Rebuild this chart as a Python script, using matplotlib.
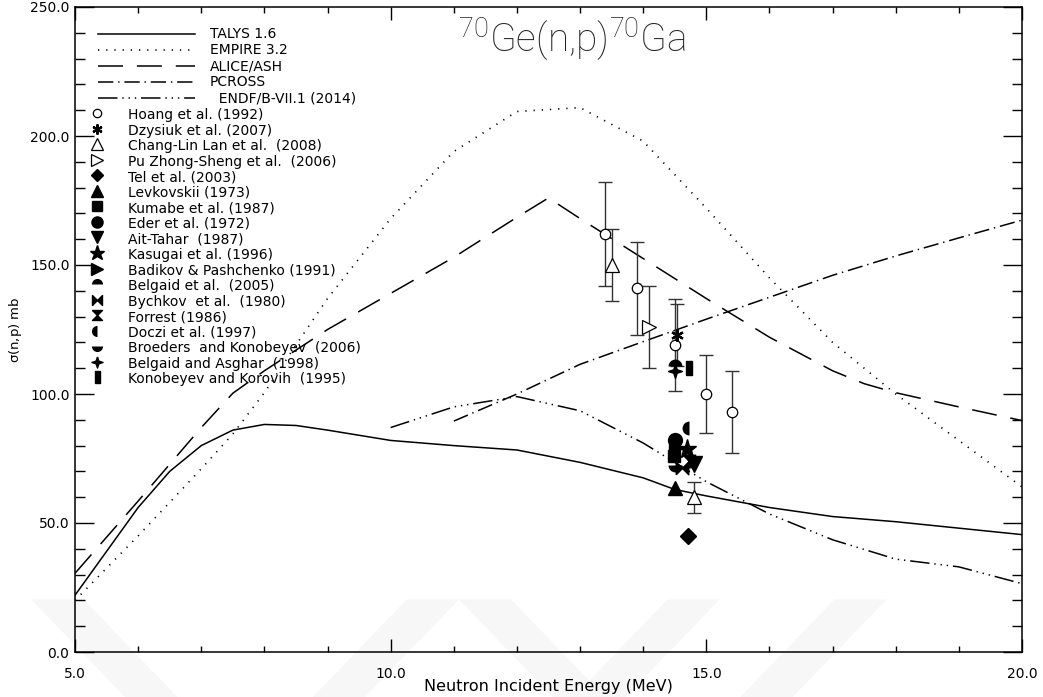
import matplotlib
matplotlib.use("Agg")
import matplotlib.pyplot as plt
from matplotlib.lines import Line2D
from matplotlib.patches import Polygon
import numpy as np

plt.rcParams['font.family'] = ['DejaVu Sans']
plt.rcParams['mathtext.default'] = 'regular'
plt.rcParams['lines.scale_dashes'] = False

# ---- model calculations -------------------------------------------------
talys_e = [5, 6, 6.5, 7, 7.5, 8, 8.5, 9, 9.5, 10, 11, 12, 13, 14, 14.5, 15, 16, 17, 18, 19, 20]
talys_xs = [22, 56, 70, 80, 86, 88.2, 87.8, 86, 84, 82, 80, 78.3, 73.5, 67.5, 63, 60.5, 56, 52.5, 50.5, 48, 45.5]

empire_e = [5, 6, 7, 7.5, 8, 8.5, 9, 10, 11, 12, 13, 14, 15, 16, 17, 18, 19, 20]
empire_xs = [20, 45, 71, 84.5, 100.5, 119, 137, 168, 194, 209.5, 211, 198, 172, 145, 120, 100, 82, 64]

alice_e = [5, 6, 7, 7.5, 8, 9, 10, 11, 12, 12.5, 13, 14, 15, 16, 17, 17.5, 18, 19, 20]
alice_xs = [30.5, 58.5, 87, 100.3, 109, 125, 139, 153, 168.5, 176, 168, 152.5, 137, 122, 109, 104, 100.5, 95, 89.7]

pcross_e = [11, 12, 13, 14, 15, 16, 17, 18, 19, 20]
pcross_xs = [89.5, 100, 111.5, 120.3, 129, 137.5, 146, 153.5, 160.5, 167.4]

endf_e = [10, 11, 12, 13, 14, 15, 16, 17, 18, 19, 20]
endf_xs = [87, 95, 99, 93.5, 81, 66, 53.5, 43.5, 36, 33, 26.5]

# ---- measurements -------------------------------------------------------
hoang_e = [13.40, 13.90, 14.51, 15.00, 15.41]
hoang_xs = [162, 141, 119, 100, 93]
hoang_err = [20, 18, 18, 15, 16]

dzysiuk_e = [14.53]
dzysiuk_xs = [123]
dzysiuk_err = [12]

lan_e = [13.50, 14.80]
lan_xs = [150, 60]
lan_err = [14, 6]

pu_e = [14.09]
pu_xs = [126]
pu_err = [16]

tel_e, tel_xs = [14.71], [45]
levk_e, levk_xs = [14.50], [63.5]
kumabe_e, kumabe_xs = [14.48], [76]
eder_e, eder_xs = [14.50], [82]
ait_e, ait_xs = [14.80], [73]
kasugai_e, kasugai_xs = [14.70], [78.5]
badikov_e, badikov_xs = [14.52], [79]
belgaid_e, belgaid_xs = [14.50], [111]
bychkov_e, bychkov_xs = [14.62], [71.5]
forrest_e, forrest_xs = [14.72], [74]
doczi_e, doczi_xs = [14.72], [87]
broeders_e, broeders_xs = [14.50], [72.5]
asghar_e, asghar_xs = [14.50], [109]
konob_e, konob_xs = [14.72], [110]

xticks = [5.0, 10.0, 15.0, 20.0]
yticks = [0.0, 50.0, 100.0, 150.0, 200.0, 250.0]

# ---- custom marker shapes ----------------------------------------------
bowtie = [(-1, -1), (-1, 1), (0, 0), (1, 1), (1, -1), (0, 0), (-1, -1)]
hourglass = [(-1, 1), (1, 1), (0, 0), (1, -1), (-1, -1), (0, 0), (-1, 1)]
sparkle = [(0, 1), (0.25, 0.25), (1, 0), (0.25, -0.25), (0, -1), (-0.25, -0.25), (-1, 0), (-0.25, 0.25), (0, 1)]
slab = [(-0.45, -1), (0.45, -1), (0.45, 1), (-0.45, 1), (-0.45, -1)]

K = 'black'

fig = plt.figure(figsize=(10.43, 6.97), dpi=100)

# faint diagonal watermark bands near the bottom of the sheet
bands = [
    [(0.030, 0.140), (0.080, 0.140), (0.170, 0.0), (0.120, 0.0)],
    [(0.390, 0.140), (0.440, 0.140), (0.350, 0.0), (0.300, 0.0)],
    [(0.440, 0.140), (0.490, 0.140), (0.580, 0.0), (0.530, 0.0)],
    [(0.640, 0.140), (0.690, 0.140), (0.600, 0.0), (0.550, 0.0)],
    [(0.800, 0.140), (0.850, 0.140), (0.760, 0.0), (0.710, 0.0)],
]
for b in bands:
    fig.patches.append(Polygon(b, closed=True, transform=fig.transFigure,
                               facecolor='#f7f7f7', edgecolor='none', zorder=0))

ax = fig.add_axes([75 / 1043, 45 / 697, 947 / 1043, 645 / 697])
ax.set_zorder(2)
ax.patch.set_alpha(0)

lw = 1.1
ax.plot(talys_e, talys_xs, color=K, lw=lw, ls='-')
ax.plot(empire_e, empire_xs, color=K, lw=1.2, ls=(0, (0.9, 5.0)))
ax.plot(alice_e, alice_xs, color=K, lw=lw, ls=(0, (18, 10)))
ax.plot(pcross_e, pcross_xs, color=K, lw=lw, ls=(0, (11, 3.5, 1, 3.5)))
ax.plot(endf_e, endf_xs, color=K, lw=lw, ls=(0, (14, 3.5, 1, 3.5, 1, 3.5, 1, 3.5)))

eb = dict(fmt='none', ecolor='#333333', elinewidth=1.0, capsize=5, capthick=1.0, zorder=3)
ax.errorbar(hoang_e, hoang_xs, yerr=hoang_err, **eb)
ax.errorbar(dzysiuk_e, dzysiuk_xs, yerr=dzysiuk_err, **eb)
ax.errorbar(lan_e, lan_xs, yerr=lan_err, **eb)
ax.errorbar(pu_e, pu_xs, yerr=pu_err, **eb)

# marker styles for the experimental sets: (label, x, y, style)
exp_sets = [
    ("Hoang et al. (1992)", hoang_e, hoang_xs, dict(marker='o', ms=7.5, mfc='white', mec=K, mew=0.9)),
    ("Dzysiuk et al. (2007)", dzysiuk_e, dzysiuk_xs, dict(marker=(6, 2, 0), ms=9, mec=K, mew=1.6)),
    ("Chang-Lin Lan et al.  (2008)", lan_e, lan_xs, dict(marker='^', ms=10, mfc='white', mec=K, mew=0.9)),
    ("Pu Zhong-Sheng et al.  (2006)", pu_e, pu_xs, dict(marker='>', ms=10, mfc='white', mec=K, mew=0.9)),
    ("Tel et al. (2003)", tel_e, tel_xs, dict(marker='D', ms=8, mfc=K, mec=K)),
    ("Levkovskii (1973)", levk_e, levk_xs, dict(marker='^', ms=10, mfc=K, mec=K)),
    ("Kumabe et al. (1987)", kumabe_e, kumabe_xs, dict(marker='s', ms=9, mfc=K, mec=K)),
    ("Eder et al. (1972)", eder_e, eder_xs, dict(marker='o', ms=10, mfc=K, mec=K)),
    ("Ait-Tahar  (1987)", ait_e, ait_xs, dict(marker='v', ms=11, mfc=K, mec=K)),
    ("Kasugai et al. (1996)", kasugai_e, kasugai_xs, dict(marker='*', ms=14, mfc=K, mec=K)),
    ("Badikov & Pashchenko (1991)", badikov_e, badikov_xs, dict(marker='>', ms=10, mfc=K, mec=K)),
    ("Belgaid et al.  (2005)", belgaid_e, belgaid_xs, dict(marker='o', ms=10, fillstyle='top', mfc=K, mfcalt='none', mec='none')),
    ("Bychkov  et al.  (1980)", bychkov_e, bychkov_xs, dict(marker=bowtie, ms=9, mfc=K, mec=K)),
    ("Forrest (1986)", forrest_e, forrest_xs, dict(marker=hourglass, ms=9, mfc=K, mec=K)),
    ("Doczi et al. (1997)", doczi_e, doczi_xs, dict(marker='o', ms=10, fillstyle='left', mfc=K, mfcalt='none', mec='none')),
    ("Broeders  and Konobeyev  (2006)", broeders_e, broeders_xs, dict(marker='o', ms=10, fillstyle='bottom', mfc=K, mfcalt='none', mec='none')),
    ("Belgaid and Asghar  (1998)", asghar_e, asghar_xs, dict(marker=sparkle, ms=10, mfc=K, mec=K)),
    ("Konobeyev and Korovih  (1995)", konob_e, konob_xs, dict(marker=slab, ms=10, mfc=K, mec=K)),
]
for label, xs, ys, st in exp_sets:
    ax.plot(xs, ys, ls='none', zorder=4, **st)

ax.set_xlim(5, 20)
ax.set_ylim(0, 250)
ax.set_xticks(xticks)
ax.set_xticklabels([f"{v:.1f}" for v in xticks])
ax.set_yticks(yticks)
ax.set_yticklabels([f"{v:.1f}" for v in yticks])
ax.set_xticks(np.arange(5, 20.01, 1.0), minor=True)
ax.set_yticks(np.arange(0, 250.01, 10.0), minor=True)
ax.tick_params(which='both', direction='in', top=True, right=True, color=K, width=1.0)
ax.tick_params(axis='x', which='major', length=9.5, labelsize=10, pad=11)
ax.tick_params(axis='x', which='minor', length=4.5)
ax.tick_params(axis='y', which='major', length=14, labelsize=10, pad=4)
ax.tick_params(axis='y', which='minor', length=7)
for s in ax.spines.values():
    s.set_linewidth(1.1)

ax.set_xlabel("Neutron Incident Energy (MeV)", fontsize=11.5)
ax.xaxis.set_label_coords(0.5, -34 / 645)
ax.xaxis.label.set_va('center')
ax.set_ylabel(r"$\sigma$(n,p) mb", fontsize=9.5)
ax.yaxis.set_label_coords(-60 / 947, 0.5)
ax.yaxis.label.set_va('center')

ax.text((572 - 75) / 947, (652 - 40) / 645, r"$^{70}$Ge(n,p)$^{70}$Ga", transform=ax.transAxes,
        fontsize=28, family=['Roboto', 'DejaVu Sans'], fontweight='light',
        ha='center', va='center', color='#222222')

# ---- key ----------------------------------------------------------------
def px(x, y):
    return ((x - 75) / 947, (652 - y) / 645)

model_keys = [
    ("TALYS 1.6", dict(ls='-', lw=lw)),
    ("EMPIRE 3.2", dict(ls=(0, (0.9, 5.0)), lw=1.2)),
    ("ALICE/ASH", dict(ls=(0, (18, 10)), lw=lw)),
    ("PCROSS", dict(ls=(0, (11, 3.5, 1, 3.5)), lw=lw)),
    ("  ENDF/B-VII.1 (2014)", dict(ls=(0, (14, 3.5, 1, 3.5, 1, 3.5, 1, 3.5)), lw=lw)),
]
for i, (label, st) in enumerate(model_keys):
    yy = 34 + 16 * i
    x0, y0 = px(98, yy)
    x1, _ = px(195, yy)
    ax.add_line(Line2D([x0, x1], [y0, y0], transform=ax.transAxes, color=K, **st))
    tx, ty = px(210, yy)
    ax.text(tx, ty, label, transform=ax.transAxes, fontsize=10, va='center', ha='left')

for i, (label, xs, ys, st) in enumerate(exp_sets):
    yy = 115 + 15.55 * i
    mx, my = px(97, yy - 2)
    kst = dict(st)
    kst['ms'] = kst['ms'] * 0.8
    ax.plot([mx], [my], ls='none', transform=ax.transAxes, clip_on=False, **kst)
    tx, ty = px(128, yy)
    ax.text(tx, ty, label, transform=ax.transAxes, fontsize=10, va='center', ha='left')

fig.savefig("out.png", dpi=100)
